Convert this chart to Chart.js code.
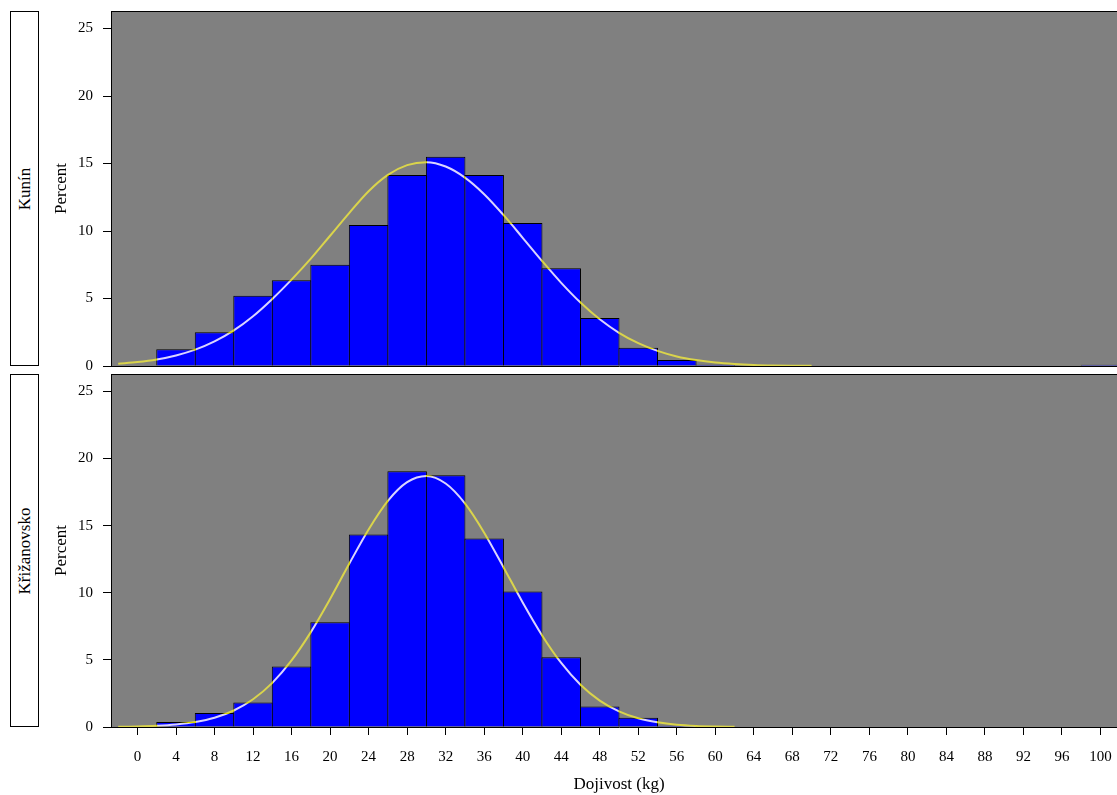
<!DOCTYPE html>
<html>
<head>
<meta charset="utf-8">
<title>Dojivost (kg)</title>
<script src="https://cdn.jsdelivr.net/npm/chart.js@4/dist/chart.umd.min.js"></script>
<style>
  html, body { margin: 0; padding: 0; background: #fff; width: 1117px; height: 795px; overflow: hidden; }
  canvas { position: absolute; left: 0; }
  #top { top: 0; }
  #bottom { top: 370px; }
  .strip {
    position: absolute; left: 10px; width: 27px;
    border: 1px solid #000; background: #fff;
    font: 17px "Liberation Serif", "Times New Roman", serif; color: #000;
  }
  .strip span {
    position: absolute; left: 50%; top: 50%;
    transform: translate(-50%, -50%) rotate(-90deg);
    white-space: nowrap;
  }
  #stripTop { top: 11px; height: 353px; }
  #stripBottom { top: 374px; height: 351px; }
</style>
</head>
<body>
<div class="strip" id="stripTop"><span>Kunín</span></div>
<div class="strip" id="stripBottom"><span>Křižanovsko</span></div>
<canvas id="top" width="1140" height="370"></canvas>
<canvas id="bottom" width="1140" height="425"></canvas>
<script>
// Histogram bins (kg), 4 kg wide, given by their midpoints
const binCenters = [4, 8, 12, 16, 20, 24, 28, 32, 36, 40, 44, 48, 52, 56, 60, 64, 68, 72, 76, 80, 84, 88, 92, 96, 100];

// Percent of cows in each bin
const kuninPct = [1.25, 2.5, 5.2, 6.35, 7.5, 10.45, 14.15, 15.5, 14.15, 10.6, 7.25, 3.55, 1.35, 0.45, 0.1, 0, 0, 0, 0, 0, 0, 0, 0, 0, 0.1];
const krizPct  = [0.37, 1.04, 1.83, 4.5, 7.8, 14.35, 19.05, 18.75, 14.05, 10.1, 5.2, 1.53, 0.69, 0.1, 0, 0, 0, 0, 0, 0, 0, 0, 0, 0, 0];

// Fitted normal curves, sampled every 2 kg
const fitX = [-2, 0, 2, 4, 6, 8, 10, 12, 14, 16, 18, 20, 22, 24, 26, 28, 30, 32, 34, 36, 38, 40, 42, 44, 46, 48, 50, 52, 54, 56, 58, 60, 62, 64, 66, 68, 70];
const kuninFit = [0.17, 0.29, 0.48, 0.78, 1.21, 1.82, 2.64, 3.69, 4.97, 6.4, 7.95, 9.65, 11.35, 12.95, 14.16, 14.88, 15.1, 14.78, 13.96, 12.73, 11.19, 9.5, 7.79, 6.16, 4.7, 3.46, 2.46, 1.69, 1.12, 0.71, 0.44, 0.26, 0.15, 0.08, 0.04, 0.02, 0.01];
const krizFit  = [0.02, 0.04, 0.09, 0.19, 0.37, 0.69, 1.23, 2.07, 3.29, 4.96, 7.07, 9.54, 12.18, 14.72, 16.85, 18.24, 18.7, 18.14, 16.66, 14.48, 11.91, 9.28, 6.84, 4.77, 3.15, 1.97, 1.17, 0.65, 0.35, 0.17, 0.08, 0.04, 0.02];

// Axis ticks
const xTickValues = [0, 4, 8, 12, 16, 20, 24, 28, 32, 36, 40, 44, 48, 52, 56, 60, 64, 68, 72, 76, 80, 84, 88, 92, 96, 100];
const yTickValues = [0, 5, 10, 15, 20, 25];
const xTitle = 'Dojivost (kg)';
const yTitle = 'Percent';

Chart.defaults.font.family = '"Liberation Serif", "Times New Roman", serif';
Chart.defaults.font.size = 15;
Chart.defaults.color = '#000';

// Grey plot background with a black frame
const plotFrame = {
  id: 'plotFrame',
  beforeDraw(chart) {
    const { ctx, chartArea: a } = chart;
    ctx.save();
    ctx.fillStyle = '#808080';
    ctx.fillRect(a.left, a.top, a.right - a.left, a.bottom - a.top);
    ctx.restore();
  },
  afterDatasetsDraw(chart) {
    const { ctx, chartArea: a } = chart;
    ctx.save();
    ctx.strokeStyle = '#000';
    ctx.lineWidth = 1;
    ctx.beginPath();
    ctx.moveTo(a.left, Math.floor(a.top) + 0.5);
    ctx.lineTo(a.right, Math.floor(a.top) + 0.5);
    ctx.moveTo(Math.floor(a.right) - 0.5, a.top);
    ctx.lineTo(Math.floor(a.right) - 0.5, a.bottom);
    ctx.stroke();
    ctx.restore();
  }
};

// The fitted curve is painted in two blended passes: yellow over the grey,
// near-white over the blue bars
const curveBlend = {
  id: 'curveBlend',
  beforeDatasetDraw(chart, args) {
    const mode = chart.data.datasets[args.index].blend;
    if (mode) {
      chart.ctx.save();
      chart.ctx.globalCompositeOperation = mode;
    }
  },
  afterDatasetDraw(chart, args) {
    if (chart.data.datasets[args.index].blend) chart.ctx.restore();
  }
};

// No extra room for the first/last tick labels
function noEdgePadding(s) {
  s.paddingTop = 0; s.paddingBottom = 0; s.paddingLeft = 0; s.paddingRight = 0;
}

function histData(pct) {
  const pts = [];
  binCenters.forEach((c, i) => { if (pct[i] > 0) pts.push({ x: c, y: pct[i] }); });
  return pts;
}

function curveData(fit) {
  return fit.map((v, i) => ({ x: fitX[i], y: v }));
}

function curvePass(fit, color, blend, order) {
  return {
    type: 'line',
    order: order,
    blend: blend,
    data: curveData(fit),
    borderColor: color,
    borderWidth: 2,
    pointRadius: 0,
    cubicInterpolationMode: 'monotone',
    fill: false
  };
}

function makePanel(id, pct, fit, withXAxis) {
  const xScale = {
    type: 'linear',
    min: -2.75,
    max: 102.75,
    offset: false,
    afterBuildTicks: s => { s.ticks = xTickValues.map(v => ({ value: v })); },
    border: { display: true, color: '#000', width: 1 },
    grid: { offset: false, drawOnChartArea: false, drawTicks: withXAxis, tickLength: 8, color: '#000' },
    ticks: { display: withXAxis, autoSkip: false, maxRotation: 0, padding: 13, color: '#000' },
    title: { display: withXAxis, text: xTitle, font: { size: 17 }, padding: { top: 0, bottom: 0 }, color: '#000' },
    afterFit: s => { s.height = withXAxis ? 68 : 0; noEdgePadding(s); }
  };
  const yScale = {
    type: 'linear',
    min: 0,
    max: 26.3,
    afterBuildTicks: s => { s.ticks = yTickValues.map(v => ({ value: v })); },
    border: { display: true, color: '#000', width: 1 },
    grid: { drawOnChartArea: false, drawTicks: true, tickLength: 8, color: '#000' },
    ticks: { padding: 10, color: '#000' },
    title: { display: true, text: yTitle, font: { size: 17 }, padding: { top: 6, bottom: 0 }, color: '#000' },
    afterFit: s => { s.width = 66; noEdgePadding(s); }
  };
  return new Chart(document.getElementById(id), {
    data: {
      datasets: [
        curvePass(fit, 'rgb(255, 255, 180)', 'color-burn', 1),
        curvePass(fit, 'rgb(218, 212, 0)', 'lighten', 0),
        {
          type: 'bar',
          order: 2,
          data: histData(pct),
          backgroundColor: '#0000ff',
          borderColor: '#000',
          borderWidth: 1,
          categoryPercentage: 1.0,
          barPercentage: 1.026
        }
      ]
    },
    options: {
      responsive: false,
      animation: false,
      devicePixelRatio: 1,
      layout: { padding: withXAxis ? { left: 45, top: 4, right: 13, bottom: 0 } : { left: 45, top: 11, right: 13, bottom: 4 } },
      plugins: { legend: { display: false }, tooltip: { enabled: false } },
      scales: { x: xScale, y: yScale }
    },
    plugins: [plotFrame, curveBlend]
  });
}

makePanel('top', kuninPct, kuninFit, false);
makePanel('bottom', krizPct, krizFit, true);
</script>
</body>
</html>
